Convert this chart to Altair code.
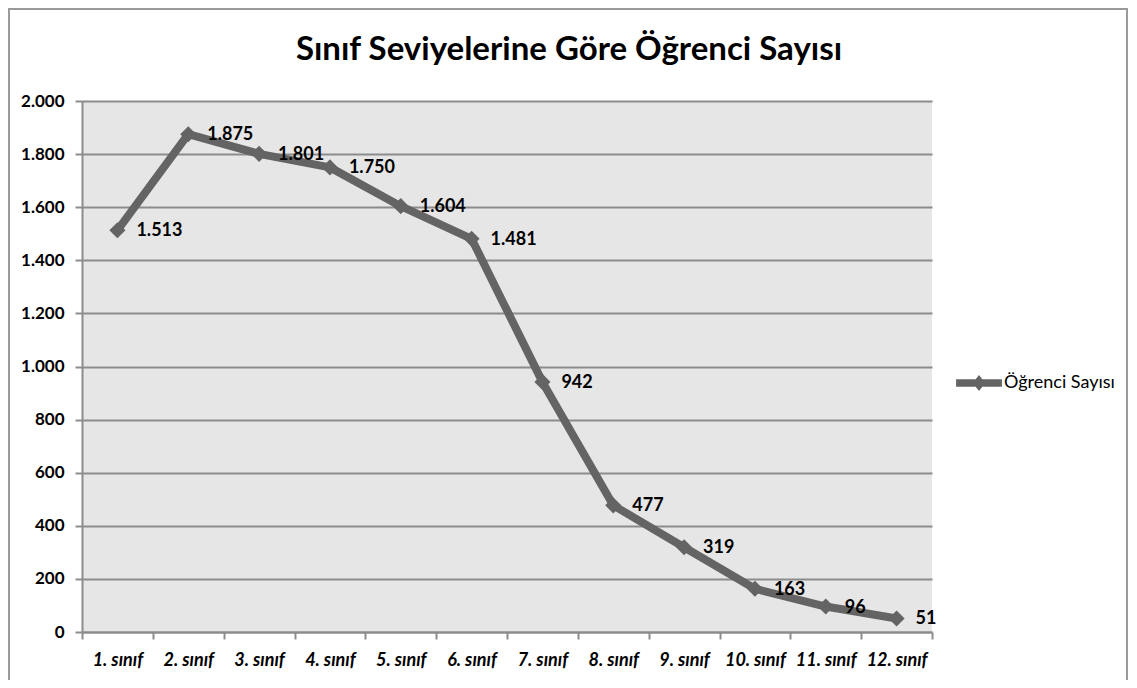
import altair as alt
import pandas as pd

categories = ["1. sınıf", "2. sınıf", "3. sınıf", "4. sınıf", "5. sınıf", "6. sınıf",
              "7. sınıf", "8. sınıf", "9. sınıf", "10. sınıf", "11. sınıf", "12. sınıf"]
values = [1513, 1875, 1801, 1750, 1604, 1481, 942, 477, 319, 163, 96, 51]
series_name = "Öğrenci Sayısı"
y_ticks = [0, 200, 400, 600, 800, 1000, 1200, 1400, 1600, 1800, 2000]

df = pd.DataFrame({"sinif": categories, "sayi": values, "seri": series_name})
df["etiket"] = [f"{v:,}".replace(",", ".") for v in values]

FONT = "Lato"
LINE = "#646464"

x_enc = alt.X("sinif:N", sort=categories, title=None,
              scale=alt.Scale(type="band", paddingInner=0, paddingOuter=0),
              axis=alt.Axis(tickBand="extent", labelAngle=0, labelFont=FONT,
                            labelFontSize=18, labelFontWeight="bold",
                            labelFontStyle="italic", labelColor="#000",
                            labelPadding=12, domainColor="#8c8c8c", domainWidth=2,
                            tickColor="#8c8c8c", tickWidth=2, tickSize=7, grid=False))
y_enc = alt.Y("sayi:Q", title=None,
              scale=alt.Scale(domain=[0, 2000], nice=False),
              axis=alt.Axis(values=y_ticks,
                            labelExpr="replace(format(datum.value, ','), ',', '.')",
                            labelFont=FONT, labelFontSize=17, labelFontWeight="bold",
                            labelColor="#000", labelPadding=11,
                            domainColor="#8c8c8c", domainWidth=2,
                            tickColor="#8c8c8c", tickWidth=2, tickSize=7,
                            grid=True, gridColor="#8c8c8c", gridWidth=2))

base = alt.Chart(df)

line = base.mark_line(strokeWidth=8, strokeJoin="round").encode(
    x=x_enc, y=y_enc,
    color=alt.Color("seri:N", scale=alt.Scale(range=[LINE]),
                    legend=alt.Legend(title=None, orient="none", legendX=881, legendY=266,
                                      symbolType="M-1.45,-0.24L1.45,-0.24L1.45,0.24L-1.45,0.24Z M0,-0.5L0.4,0L0,0.5L-0.4,0Z",
                                      symbolSize=1000, symbolFillColor=LINE,
                                      symbolStrokeWidth=0, labelFont=FONT,
                                      labelFontSize=18, labelColor="#000",
                                      labelOffset=9)),
)
points = base.mark_point(shape="diamond", filled=True, size=260, opacity=1, color=LINE).encode(
    x=alt.X("sinif:N", sort=categories), y="sayi:Q")
labels = base.mark_text(align="left", baseline="middle", dx=19, dy=1, font=FONT,
                        fontSize=18, fontWeight="bold", color="#000").encode(
    x=alt.X("sinif:N", sort=categories), y="sayi:Q", text="etiket:N")

frame = alt.Chart(pd.DataFrame({"k": [0]})).mark_rect(
    fill="transparent", fillOpacity=0, stroke="#9a9a9a", strokeWidth=2).encode(
    x=alt.value(-73), x2=alt.value(1045), y=alt.value(-92), y2=alt.value(620))

chart = alt.layer(line, points, labels, frame).properties(
    width=850, height=531,
    title=alt.TitleParams("Sınıf Seviyelerine Göre Öğrenci Sayısı", font=FONT,
                          fontSize=33, fontWeight="bold", color="#000",
                          anchor="middle", frame="group", dx=62, offset=-59),
    autosize=alt.AutoSizeParams(type="none"),
    padding={"left": 74, "top": 93, "right": 197, "bottom": 48},
).configure(background="white")
chart = chart.configure_view(fill="#e6e6e6", stroke=None)

chart.save("out.html", embed_options={"renderer": "svg", "actions": False})
